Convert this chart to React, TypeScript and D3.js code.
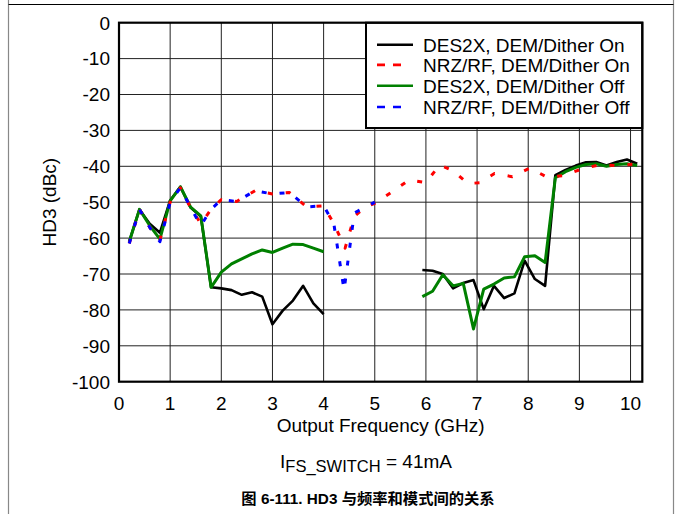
import React from "react";
import * as d3 from "d3";

// frequencies (GHz) for DES2X traces, null marks the gap 4-6 GHz
const desFreq = [
  0.2, 0.4, 0.6, 0.8, 1.0, 1.2, 1.4, 1.6, 1.8, 2.0, 2.2, 2.4, 2.6, 2.8, 3.0,
  3.2, 3.4, 3.6, 3.8, 4.0, 5.0, 5.93, 6.13, 6.33, 6.53, 6.73, 6.93, 7.13, 7.33,
  7.53, 7.73, 7.93, 8.13, 8.33, 8.53, 8.73, 8.93, 9.13, 9.33, 9.53, 9.73, 9.93,
  10.13,
];
const des2xOn = [
  -61, -52, -56, -58.5, -49.5, -45.7, -51.5, -54, -73.7, -74, -74.5, -75.8,
  -75.1, -76.3, -84, -80.2, -77.4, -73.3, -78.2, -81.2, null, -68.9, -69.1,
  -70, -74, -72.5, -71.7, -79.8, -73.3, -76.7, -75.4, -66.3, -71.4, -73.3,
  -42.5, -41, -39.8, -38.9, -38.8, -39.8, -38.8, -38.1, -39.3,
];
const des2xOff = [
  -61, -52, -56.5, -60.3, -49.6, -45.7, -51.4, -53.8, -73.7, -69.5, -67.2,
  -65.8, -64.4, -63.3, -64, -62.8, -61.7, -61.8, -62.8, -63.8, null, -76.3,
  -74.8, -70.2, -73.3, -72.6, -85.3, -74.2, -72.8, -71.1, -70.8, -65.2, -64.9,
  -66.8, -43.2, -41.5, -40.3, -39.5, -39.3, -40, -39.5, -39.3, -39.8,
];

// NRZ/RF traces
const nrzOnFreq = [
  0.2, 0.4, 0.6, 0.8, 1.0, 1.2, 1.4, 1.6, 1.8, 2.0, 2.3, 2.66, 3.0, 3.33,
  3.67, 4.0, 4.2, 4.42, 4.6, 4.8, 5.0, 5.37, 5.67, 6.0, 6.27, 6.53, 6.82, 7.05,
  7.34, 7.69, 8.03, 8.38, 8.69, 9.04, 9.38, 9.72, 10.08,
];
const nrzOn = [
  -61.5, -52, -57, -60.5, -50, -46, -51.5, -56, -52, -49.3, -49.8, -46.8,
  -47.7, -47.3, -51.3, -51, -56, -62.8, -54, -51.5, -50.3, -46.8, -43.8, -44.5,
  -39.6, -41.2, -44.8, -44.6, -42, -42.9, -40.5, -43.1, -42.6, -40.8, -39.6,
  -39.8, -39.4,
];
const nrzOffFreq = [
  0.2, 0.4, 0.6, 0.8, 1.0, 1.2, 1.4, 1.6, 1.8, 2.0, 2.3, 2.66, 3.0, 3.33,
  3.67, 4.0, 4.2, 4.4, 4.6, 4.8, 5.0,
];
const nrzOff = [
  -61.5, -52, -57, -61, -50, -46, -51.5, -56.5, -52, -49.3, -49.8, -46.8,
  -47.7, -47.3, -51.3, -51, -56, -74.5, -53, -51.5, -50,
];

const xTicks = [0, 1, 2, 3, 4, 5, 6, 7, 8, 9, 10];
const yTicks = [0, -10, -20, -30, -40, -50, -60, -70, -80, -90, -100];
const legendLabels = [
  "DES2X, DEM/Dither On",
  "NRZ/RF, DEM/Dither On",
  "DES2X, DEM/Dither Off",
  "NRZ/RF, DEM/Dither Off",
];

const W = 676;
const H = 514;
const left = 119;
const right = 642.3;
const top = 22.7;
const bottom = 381.7;
const font = "'Liberation Sans', Arial, sans-serif";

const App = () => {
  const x = d3.scaleLinear().domain([0, 10.23]).range([left, right]);
  const y = d3.scaleLinear().domain([-100, 0]).range([bottom, top]);

  const line = d3
    .line<[number, number | null]>()
    .defined((d) => d[1] !== null)
    .x((d) => x(d[0]))
    .y((d) => y(d[1] as number));

  const series = [
    { freq: desFreq, vals: des2xOn, color: "#000", dash: "", width: 2.6 },
    { freq: desFreq, vals: des2xOff, color: "#008000", dash: "", width: 3 },
    { freq: nrzOnFreq, vals: nrzOn, color: "#ff0000", dash: "5,13", width: 3 },
    { freq: nrzOffFreq, vals: nrzOff, color: "#0000ff", dash: "5,13", width: 3 },
  ];
  const legendStyle = [
    { color: "#000", dash: "", end: 413 },
    { color: "#ff0000", dash: "8,8", end: 402 },
    { color: "#008000", dash: "", end: 413 },
    { color: "#0000ff", dash: "8,8", end: 402 },
  ];

  return (
    <svg
      width={W}
      height={H}
      style={{ position: "absolute", left: 0, top: 0, background: "#fff" }}
      fontFamily={font}
    >
      {/* figure frame */}
      <line x1={8.5} y1={0} x2={8.5} y2={H} stroke="#888" strokeWidth={1.2} />
      <line x1={673.5} y1={0} x2={673.5} y2={H} stroke="#888" strokeWidth={1.2} />
      <line x1={8.5} y1={4.5} x2={673.5} y2={4.5} stroke="#000" strokeWidth={1} />

      {/* grid */}
      {xTicks.slice(1).map((t) => (
        <line key={"gx" + t} x1={x(t)} x2={x(t)} y1={top} y2={bottom} stroke="#222" strokeWidth={1} />
      ))}
      {yTicks.slice(1, -1).map((t) => (
        <line key={"gy" + t} x1={left} x2={right} y1={y(t)} y2={y(t)} stroke="#222" strokeWidth={1} />
      ))}

      {/* data */}
      <g clipPath="url(#plotClip)">
        {series.map((s, i) => (
          <path
            key={i}
            d={line(s.freq.map((f, j) => [f, s.vals[j]]) as [number, number | null][]) || ""}
            fill="none"
            stroke={s.color}
            strokeWidth={s.width}
            strokeDasharray={s.dash || undefined}
            strokeLinejoin="round"
          />
        ))}
      </g>
      <defs>
        <clipPath id="plotClip">
          <rect x={left} y={top} width={right - left} height={bottom - top} />
        </clipPath>
      </defs>

      {/* legend */}
      <rect x={366} y={top} width={right - 366} height={128 - top} fill="#fff" stroke="#000" strokeWidth={2} />
      {legendLabels.map((lab, i) => {
        const base = [51.7, 71.9, 92.8, 114][i];
        return (
          <g key={lab}>
            <line
              x1={377}
              x2={legendStyle[i].end}
              y1={base - 7}
              y2={base - 7}
              stroke={legendStyle[i].color}
              strokeWidth={2.6}
              strokeDasharray={legendStyle[i].dash || undefined}
            />
            <text x={423} y={base} fontSize={19} fill="#000">
              {lab}
            </text>
          </g>
        );
      })}

      {/* plot frame */}
      <rect x={left} y={top} width={right - left} height={bottom - top} fill="none" stroke="#000" strokeWidth={2.2} />

      {/* tick labels */}
      {yTicks.map((t) => (
        <text key={"ty" + t} x={110} y={y(t) + 6.8} fontSize={19} textAnchor="end">
          {t}
        </text>
      ))}
      {xTicks.map((t) => (
        <text key={"tx" + t} x={x(t)} y={409.5} fontSize={19} textAnchor="middle">
          {t}
        </text>
      ))}

      {/* axis titles */}
      <text x={(left + right) / 2} y={431.5} fontSize={19} textAnchor="middle">
        Output Frequency (GHz)
      </text>
      <text transform={`translate(56,${(top + bottom) / 2}) rotate(-90)`} fontSize={19} textAnchor="middle">
        HD3 (dBc)
      </text>

      <text x={366} y={468} fontSize={19} textAnchor="middle">
        I<tspan fontSize={16.5} dy={4}>FS_SWITCH</tspan>
        <tspan dy={-4}> = 41mA</tspan>
      </text>

      <text
        x={368}
        y={504}
        fontSize={15.3}
        fontWeight="bold"
        textAnchor="middle"
        fontFamily="'Liberation Sans', Arial, 'Noto Sans CJK SC', sans-serif"
      >
        图 6-111. HD3 与频率和模式间的关系
      </text>
    </svg>
  );
};

export default App;
